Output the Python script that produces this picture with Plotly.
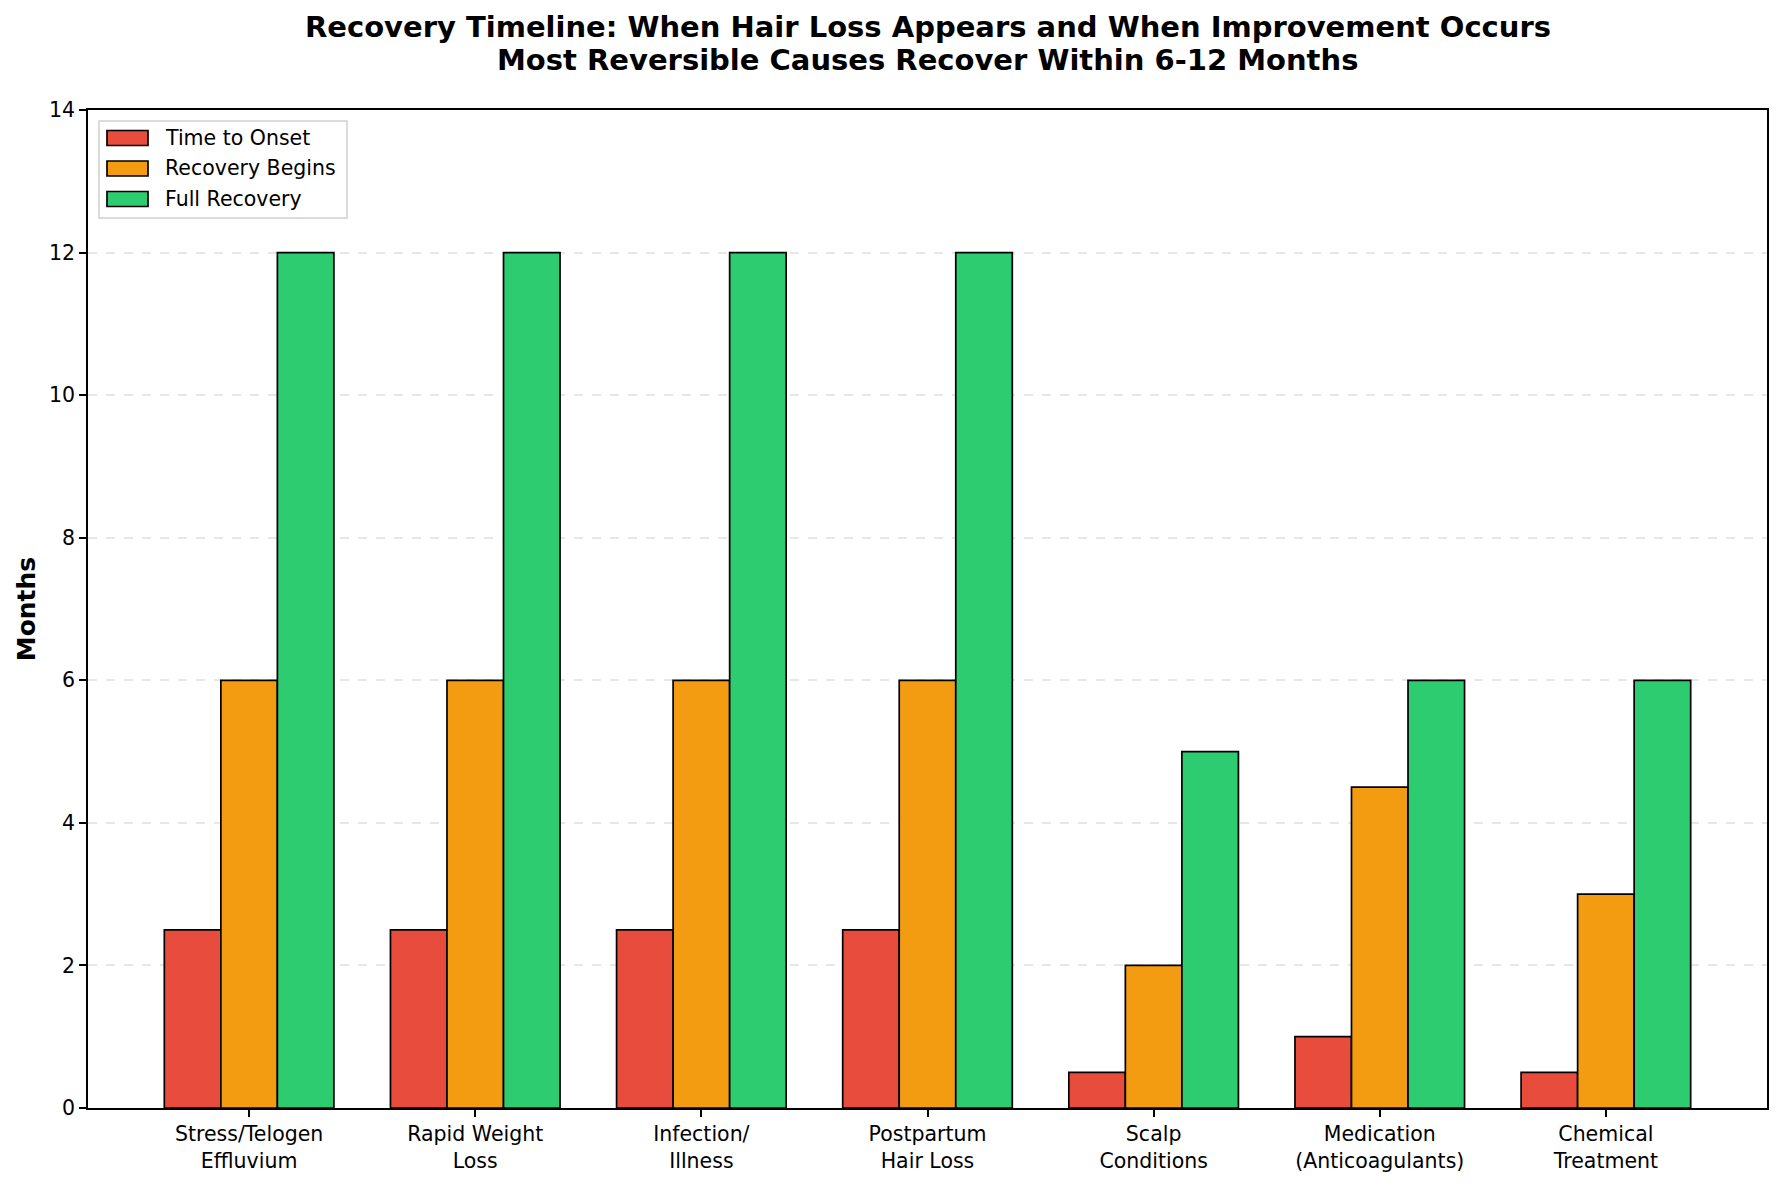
import plotly.graph_objects as go

categories = ["Stress/Telogen<br>Effluvium", "Rapid Weight<br>Loss", "Infection/<br>Illness",
              "Postpartum<br>Hair Loss", "Scalp<br>Conditions", "Medication<br>(Anticoagulants)",
              "Chemical<br>Treatment"]
time_to_onset = [2.5, 2.5, 2.5, 2.5, 0.5, 1.0, 0.5]
recovery_begins = [6, 6, 6, 6, 2, 4.5, 3]
full_recovery = [12, 12, 12, 12, 5, 6, 6]
y_ticks = [0, 2, 4, 6, 8, 10, 12, 14]
series_names = ["Time to Onset", "Recovery Begins", "Full Recovery"]
series_colors = ["#e74c3c", "#f39c12", "#2ecc71"]
title_lines = ["Recovery Timeline: When Hair Loss Appears and When Improvement Occurs",
               "Most Reversible Causes Recover Within 6-12 Months"]

series_values = [time_to_onset, recovery_begins, full_recovery]

FONT = "DejaVu Sans"
W, H = 1782, 1181
L, R, T, B = 88, 1767, 110, 1108
PW, PH = R - L, B - T

def px_x(x):
    return (x - L) / PW

def px_y(y):
    return (B - y) / PH

fig = go.Figure()
for name, vals, color in zip(series_names, series_values, series_colors):
    fig.add_trace(go.Bar(
        x=categories, y=vals, name=name, showlegend=False,
        marker=dict(color=color, line=dict(color="black", width=1.7)),
    ))

shapes = []
annotations = []
# legend frame
shapes.append(dict(type="rect", xref="paper", yref="paper",
                   x0=px_x(99), x1=px_x(347), y0=px_y(218), y1=px_y(121),
                   line=dict(color="#d0d0d0", width=1.5), fillcolor="rgba(255,255,255,0.8)",
                   layer="above"))
for i, (name, color) in enumerate(zip(series_names, series_colors)):
    cy = 138 + i * 30.5
    shapes.append(dict(type="rect", xref="paper", yref="paper",
                       x0=px_x(107), x1=px_x(148), y0=px_y(cy + 7.5), y1=px_y(cy - 7.5),
                       line=dict(color="black", width=1.7), fillcolor=color, layer="above"))
    annotations.append(dict(text=name, xref="paper", yref="paper",
                            x=px_x(163), y=px_y(cy), xanchor="left", yanchor="middle",
                            showarrow=False, font=dict(family=FONT, size=20.5, color="black")))
# title lines
for i, line in enumerate(title_lines):
    annotations.append(dict(text="<b>" + line + "</b>", xref="paper", yref="paper",
                            x=0.5, y=px_y(27 + i * 33), xanchor="center", yanchor="middle",
                            showarrow=False, font=dict(family=FONT, size=29, color="black")))

fig.update_layout(
    width=W, height=H,
    margin=dict(l=L, r=W - R, t=T, b=H - B, pad=0, autoexpand=False),
    paper_bgcolor="white", plot_bgcolor="white",
    font=dict(family=FONT, size=20.5, color="black"),
    barmode="group", bargap=0.25, bargroupgap=0,
    showlegend=False,
    shapes=shapes, annotations=annotations,
)
fig.update_xaxes(
    type="category", range=[-0.7125, 6.7125], automargin=False,
    showline=True, linecolor="black", linewidth=1.7, mirror=True,
    ticks="outside", ticklen=7, tickwidth=1.7, tickcolor="black",
    showgrid=False, tickfont=dict(family=FONT, size=20.5),
)
fig.update_yaxes(
    range=[0, 14], tickvals=y_ticks, automargin=False,
    showline=True, linecolor="black", linewidth=1.7, mirror=True,
    ticks="outside", ticklen=7, tickwidth=1.7, tickcolor="black",
    showgrid=True, gridcolor="rgba(176,176,176,0.3)", griddash="dash", gridwidth=1.5,
    zeroline=False,
    title=dict(text="<b>Months</b>", font=dict(family=FONT, size=25), standoff=6),
    tickfont=dict(family=FONT, size=20.5),
)

fig.write_html("out.html")
